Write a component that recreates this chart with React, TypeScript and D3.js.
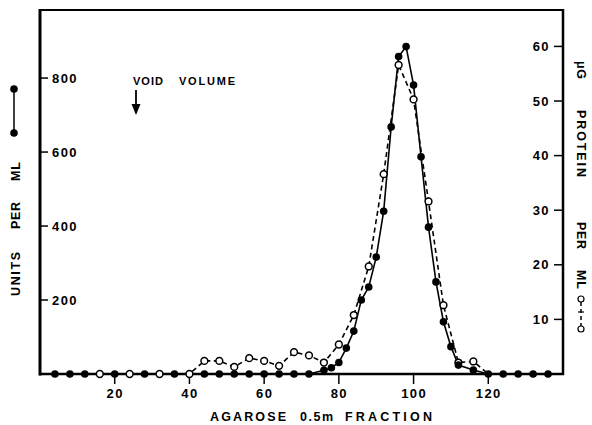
import React, { useEffect, useRef } from "react";
import * as d3 from "d3";

// Enzyme activity (units per ml) by agarose 0.5m fraction number
const activityFraction = [4, 8, 12, 20, 28, 36, 44, 48, 52, 56, 60, 64, 68, 72, 76, 78, 80, 82, 84, 86, 88, 90, 92, 94, 96, 98, 100, 102, 104, 106, 108, 110, 112, 116, 120, 124, 128, 132, 136];
const activityUnits = [0, 0, 0, 0, 0, 0, 0, 0, 0, 0, 0, 0, 0, 0, 10, 17, 31, 70, 116, 200, 235, 316, 440, 668, 858, 885, 781, 587, 397, 249, 141, 74, 24, 11, 0, 0, 0, 0, 0];

// Protein (µg per ml) by fraction number
const proteinFraction = [16, 24, 32, 40, 44, 48, 52, 56, 60, 64, 68, 72, 76, 80, 84, 88, 92, 96, 100, 104, 108, 112, 116, 120];
const proteinUg = [0, 0, 0, 0, 2.4, 2.4, 1.3, 2.9, 2.4, 1.5, 4.0, 3.4, 2.1, 5.4, 10.8, 19.7, 36.6, 56.6, 50.3, 31.6, 12.6, 2.1, 2.3, 0];

const xTicks = [20, 40, 60, 80, 100, 120];
const leftTicks = [200, 400, 600, 800];
const rightTicks = [10, 20, 30, 40, 50, 60];

const W = 592;
const H = 425;
const FONT = "'Liberation Sans', Arial, Helvetica, sans-serif";

type Word = { text: string; at: number; len: number };

export default function App() {
  const ref = useRef<SVGSVGElement>(null);

  useEffect(() => {
    const svg = d3.select(ref.current);
    svg.selectAll("*").remove();

    const left = 40, right = 563, top = 10, bottom = 374;
    const x = d3.scaleLinear().domain([0, 140]).range([left, right]);
    const yL = d3.scaleLinear().domain([0, 984]).range([bottom, top]);
    const yR = d3.scaleLinear().domain([0, 66.67]).range([bottom, top]);

    const activity = activityFraction.map((f, i) => ({ f, v: activityUnits[i] }));
    const protein = proteinFraction.map((f, i) => ({ f, v: proteinUg[i] }));

    const g = svg.append("g");

    const label = (sel: d3.Selection<SVGTextElement, unknown, null, undefined>, size: number) =>
      sel.attr("font-family", FONT).attr("font-weight", "bold").attr("font-size", size);

    // spaced-out words along a line; rotate: 0 horizontal, -90 bottom-to-top, 90 top-to-bottom
    const words = (list: Word[], across: number, rotate: number, size: number) => {
      list.forEach((w) => {
        const t = label(g.append("text"), size)
          .attr("textLength", w.len).attr("lengthAdjust", "spacing").text(w.text);
        if (rotate === 0) t.attr("x", w.at).attr("y", across);
        else t.attr("transform", `translate(${across},${w.at}) rotate(${rotate})`);
      });
    };

    // frame
    g.append("line").attr("x1", left).attr("x2", right).attr("y1", top).attr("y2", top)
      .attr("stroke", "#000").attr("stroke-width", 2);
    g.append("line").attr("x1", right).attr("x2", right).attr("y1", top - 1).attr("y2", bottom + 1)
      .attr("stroke", "#000").attr("stroke-width", 2.5);
    g.append("line").attr("x1", left).attr("x2", left).attr("y1", top - 1).attr("y2", bottom + 1.5)
      .attr("stroke", "#000").attr("stroke-width", 3);

    // left ticks (inside) and labels
    leftTicks.forEach((t) => {
      g.append("line").attr("x1", left).attr("x2", left + 8).attr("y1", yL(t)).attr("y2", yL(t))
        .attr("stroke", "#000").attr("stroke-width", 1.5);
      label(g.append("text"), 13).attr("x", left + 12).attr("y", yL(t)).attr("dy", "0.36em")
        .attr("letter-spacing", 1.4).text(String(t));
    });

    // right ticks (inside) and labels
    rightTicks.forEach((t) => {
      g.append("line").attr("x1", right - 9).attr("x2", right).attr("y1", yR(t)).attr("y2", yR(t))
        .attr("stroke", "#000").attr("stroke-width", 1.5);
      label(g.append("text"), 13).attr("x", right - 13).attr("y", yR(t)).attr("dy", "0.36em")
        .attr("text-anchor", "end").attr("letter-spacing", 1.4).text(String(t));
    });

    // bottom ticks (outside) and labels
    xTicks.forEach((t) => {
      g.append("line").attr("x1", x(t)).attr("x2", x(t)).attr("y1", bottom).attr("y2", bottom + 10)
        .attr("stroke", "#000").attr("stroke-width", 1.5);
      label(g.append("text"), 13).attr("x", x(t) + 0.5).attr("y", bottom + 24)
        .attr("text-anchor", "middle").attr("letter-spacing", 1.4).text(String(t));
    });

    // axis titles
    words([
      { text: "AGAROSE", at: 210, len: 76 },
      { text: "0.5m", at: 300, len: 33 },
      { text: "FRACTION", at: 345, len: 87 },
    ], 421, 0, 12.5);

    words([
      { text: "UNITS", at: 296, len: 44 },
      { text: "PER", at: 229, len: 27 },
      { text: "ML", at: 181, len: 19 },
    ], 20, -90, 12.5);

    words([
      { text: "\u03BCG", at: 61, len: 18 },
      { text: "PROTEIN", at: 110, len: 67 },
      { text: "PER", at: 222, len: 27 },
      { text: "ML", at: 270, len: 19 },
    ], 577, 90, 12.5);

    // left legend symbol: filled dots joined by a line
    g.append("line").attr("x1", 14).attr("x2", 14).attr("y1", 89).attr("y2", 133)
      .attr("stroke", "#000").attr("stroke-width", 1.5);
    [89, 133].forEach((cy) =>
      g.append("circle").attr("cx", 14).attr("cy", cy).attr("r", 3.8).attr("fill", "#000"));

    // right legend symbol: open dots joined by a dashed line
    g.append("line").attr("x1", 581).attr("x2", 581).attr("y1", 302).attr("y2", 326)
      .attr("stroke", "#000").attr("stroke-width", 1.5).attr("stroke-dasharray", "4,3");
    g.append("line").attr("x1", 578).attr("x2", 584).attr("y1", 312).attr("y2", 312)
      .attr("stroke", "#000").attr("stroke-width", 1.2);
    [299, 329].forEach((cy) =>
      g.append("circle").attr("cx", 581).attr("cy", cy).attr("r", 3)
        .attr("fill", "#fff").attr("stroke", "#000").attr("stroke-width", 1.2));

    // void volume marker
    words([
      { text: "VOID", at: 133, len: 30 },
      { text: "VOLUME", at: 179, len: 56 },
    ], 85, 0, 11);
    g.append("line").attr("x1", 136).attr("x2", 136).attr("y1", 90).attr("y2", 106)
      .attr("stroke", "#000").attr("stroke-width", 1.8);
    g.append("path").attr("d", "M131.5,104 L140.5,104 L136,115 Z").attr("fill", "#000");

    // series lines
    const lineA = d3.line<{ f: number; v: number }>().x((d) => x(d.f)).y((d) => yL(d.v));
    const lineP = d3.line<{ f: number; v: number }>().x((d) => x(d.f)).y((d) => yR(d.v));

    g.append("path").attr("d", lineA(activity) as string)
      .attr("fill", "none").attr("stroke", "#000").attr("stroke-width", 1.6);
    g.append("path").attr("d", lineP(protein) as string)
      .attr("fill", "none").attr("stroke", "#000").attr("stroke-width", 1.6)
      .attr("stroke-dasharray", "5,3.5");

    // baseline drawn over the lines
    g.append("line").attr("x1", left - 1).attr("x2", right + 1).attr("y1", bottom).attr("y2", bottom)
      .attr("stroke", "#000").attr("stroke-width", 2.5);

    // markers
    g.selectAll("circle.prot").data(protein.slice(0, protein.length - 1)).enter().append("circle")
      .attr("class", "prot").attr("cx", (d) => x(d.f)).attr("cy", (d) => yR(d.v)).attr("r", 3.4)
      .attr("fill", "#fff").attr("stroke", "#000").attr("stroke-width", 1.5);
    g.selectAll("circle.act").data(activity).enter().append("circle")
      .attr("class", "act").attr("cx", (d) => x(d.f)).attr("cy", (d) => yL(d.v)).attr("r", 3.8)
      .attr("fill", "#000");
  }, []);

  return (
    <svg
      ref={ref}
      width={W}
      height={H}
      viewBox={`0 0 ${W} ${H}`}
      style={{ position: "absolute", left: 0, top: 0, background: "#fff" }}
    />
  );
}
